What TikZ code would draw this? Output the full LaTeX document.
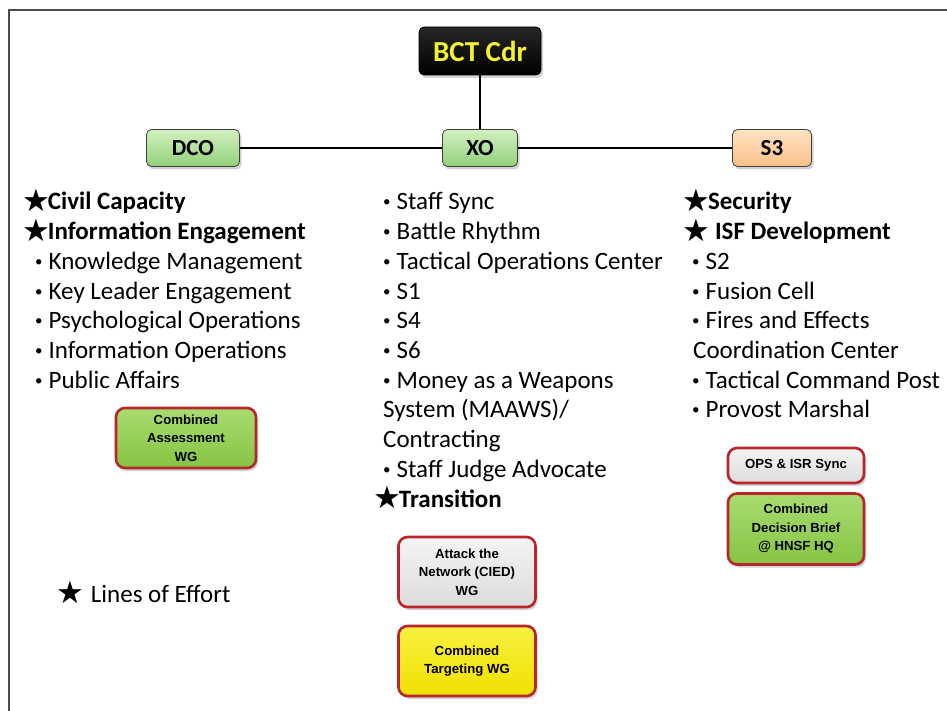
\documentclass[tikz,border=0pt]{standalone}
\usepackage{fontspec}
\setmainfont{Carlito}
\newfontfamily\arialf{Liberation Sans}
\newfontfamily\starf{DejaVu Sans}
\usetikzlibrary{shadows}
\definecolor{boxred}{HTML}{B8262B}
\definecolor{lgreenT}{HTML}{D2F0C0}
\definecolor{lgreenB}{HTML}{92D07A}
\definecolor{peachT}{HTML}{FFE2C2}
\definecolor{peachB}{HTML}{F8C088}
\definecolor{wgreenT}{HTML}{A8DC70}
\definecolor{wgreenB}{HTML}{86C443}
\definecolor{grayT}{HTML}{F4F4F4}
\definecolor{grayB}{HTML}{DCDCDC}
\definecolor{yelT}{HTML}{F8F040}
\definecolor{yelB}{HTML}{F0E000}
\definecolor{bctyellow}{HTML}{F2F230}
\newcommand\bstar{\smash{\raisebox{-1.5pt}{\starf\fontsize{31}{31}\selectfont ★}}}
\tikzset{
  topbox/.style={rounded corners=5pt, draw=black!75, line width=0.8pt,
    font=\fontsize{23}{26}\selectfont\bfseries, inner sep=0pt,
    drop shadow={opacity=0.35, shadow xshift=2pt, shadow yshift=-3pt}},
  wgbox/.style={rounded corners=9pt, draw=boxred, line width=2.6pt,
    font=\arialf\bfseries\fontsize{13.2}{18.5}\selectfont, align=center, inner sep=0pt,
    drop shadow={opacity=0.35, shadow xshift=2pt, shadow yshift=-3pt}},
  item/.style={anchor=base west, inner sep=0pt, font=\fontsize{25}{27}\selectfont},
  bitem/.style={item, font=\fontsize{25}{27}\selectfont\bfseries},
  conn/.style={line width=2.6pt, black}
}
\newcommand\bul{\raisebox{3pt}{\fontsize{15}{15}\selectfont •}\hskip 6pt}
\begin{document}
\begin{tikzpicture}[x=1pt,y=-1pt]
\useasboundingbox (0,0) rectangle (947,711);
\draw[line width=1.2pt, black!70] (9,711) -- (9,10) -- (947,10);

% top row
\node[topbox, draw=black, text=bctyellow, minimum width=122pt, minimum height=48pt,
  top color=black!85, bottom color=black, font=\fontsize{29}{32}\selectfont\bfseries] (bct) at (480,51) {BCT Cdr};
\node[topbox, top color=lgreenT, bottom color=lgreenB, minimum width=93pt, minimum height=37pt] (dco) at (193,148) {DCO};
\node[topbox, top color=lgreenT, bottom color=lgreenB, minimum width=75pt, minimum height=37pt] (xo) at (480,148) {XO};
\node[topbox, top color=peachT, bottom color=peachB, minimum width=79pt, minimum height=37pt] (s3) at (772,148) {S3};
\draw[conn] (bct.south) -- (xo.north);
\draw[conn] (dco.east) -- (xo.west);
\draw[conn] (xo.east) -- (s3.west);

% left column
\node[bitem] (l1) at (22,210) {\bstar\hskip-2pt Civil Capacity};
\node[bitem] (l2) at (22,239.7) {\bstar\hskip-2pt Information Engagement};
\node[item] (l3) at (35,269.4) {\bul Knowledge Management};
\node[item] (l4) at (35,299.1) {\bul Key Leader Engagement};
\node[item] (l5) at (35,328.8) {\bul Psychological Operations};
\node[item] (l6) at (35,358.5) {\bul Information Operations};
\node[item] (l7) at (35,388.2) {\bul Public Affairs};
\node[wgbox, top color=wgreenT, bottom color=wgreenB, minimum width=140pt, minimum height=60pt] (cawg) at (186,438) {Combined\\Assessment\\WG};

% middle column
\node[item] (m1) at (383,210) {\bul Staff Sync};
\node[item] (m2) at (383,239.7) {\bul Battle Rhythm};
\node[item] (m3) at (383,269.4) {\bul Tactical Operations Center};
\node[item] (m4) at (383,299.1) {\bul S1};
\node[item] (m5) at (383,328.8) {\bul S4};
\node[item] (m6) at (383,358.5) {\bul S6};
\node[item] (m7) at (383,388.2) {\bul Money as a Weapons};
\node[item] (m8) at (383,417.9) {System (MAAWS)/};
\node[item] (m9) at (383,447.6) {Contracting};
\node[item] (m10) at (383,477.3) {\bul Staff Judge Advocate};
\node[bitem] (m11) at (373,507) {\bstar\hskip-2pt Transition};
\node[wgbox, top color=grayT, bottom color=grayB, minimum width=137pt, minimum height=70pt] (atn) at (467,572) {Attack the\\Network (CIED)\\WG};
\node[wgbox, top color=yelT, bottom color=yelB, minimum width=137pt, minimum height=70pt] (ctwg) at (467,661) {Combined\\Targeting WG};

% right column
\node[bitem] (r1) at (682,210) {\bstar\hskip-2pt Security};
\node[bitem] (r2) at (682,239.7) {\bstar\hskip 5pt ISF Development};
\node[item] (r3) at (692,269.4) {\bul S2};
\node[item] (r4) at (692,299.1) {\bul Fusion Cell};
\node[item] (r5) at (692,328.8) {\bul Fires and Effects};
\node[item] (r6) at (693,358.5) {Coordination Center};
\node[item] (r7) at (692,388.2) {\bul Tactical Command Post};
\node[item] (r8) at (692,417.9) {\bul Provost Marshal};
\node[wgbox, top color=grayT, bottom color=grayB, minimum width=136pt, minimum height=35pt] (ops) at (796,465.5) {OPS \& ISR Sync};
\node[wgbox, top color=wgreenT, bottom color=wgreenB, minimum width=136pt, minimum height=71pt] (cdb) at (796,529) {Combined\\Decision Brief\\@ HNSF HQ};

% legend
\node[item] (leg) at (56,602) {\bstar\hskip 7pt Lines of Effort};
\end{tikzpicture}
\end{document}
